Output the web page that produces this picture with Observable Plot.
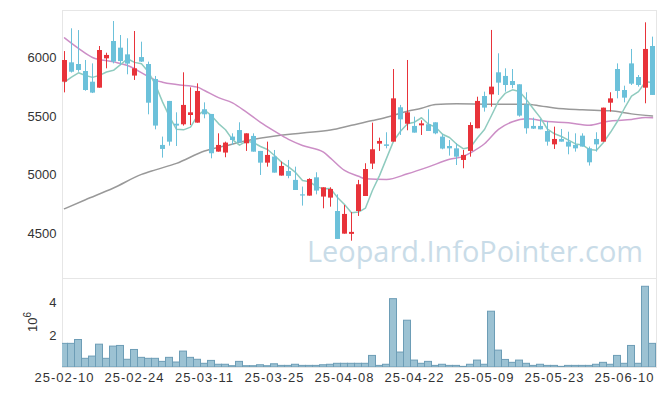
<!DOCTYPE html>
<html><head><meta charset="utf-8">
<script src="https://cdn.jsdelivr.net/npm/d3@7"></script>
<script src="https://cdn.jsdelivr.net/npm/@observablehq/plot@0.6"></script>
<style>
body{margin:0;background:#fff;}
#wrap{position:relative;width:665px;height:396px;overflow:hidden;font-family:"Liberation Sans",Arial,sans-serif;}
#wrap > svg{display:block;}
#overlay{position:absolute;left:0;top:0;pointer-events:none;}
#vol g[aria-label="x-axis tick label"] text{letter-spacing:1px;}
</style></head><body><div id="wrap"></div>
<script>
const dates = ["25-02-10","25-02-11","25-02-12","25-02-13","25-02-14","25-02-17","25-02-18","25-02-19","25-02-20","25-02-21",
"25-02-24","25-02-25","25-02-26","25-02-27","25-02-28","25-03-04","25-03-05","25-03-06","25-03-07","25-03-10",
"25-03-11","25-03-12","25-03-13","25-03-14","25-03-17","25-03-18","25-03-19","25-03-20","25-03-21","25-03-24",
"25-03-25","25-03-26","25-03-27","25-03-28","25-03-31","25-04-01","25-04-02","25-04-03","25-04-04","25-04-07",
"25-04-08","25-04-09","25-04-10","25-04-11","25-04-14","25-04-15","25-04-16","25-04-17","25-04-18","25-04-21",
"25-04-22","25-04-23","25-04-24","25-04-25","25-04-28","25-04-29","25-04-30","25-05-02","25-05-07","25-05-08",
"25-05-09","25-05-12","25-05-13","25-05-14","25-05-15","25-05-16","25-05-19","25-05-20","25-05-21","25-05-22",
"25-05-23","25-05-26","25-05-27","25-05-28","25-05-29","25-05-30","25-06-02","25-06-04","25-06-05","25-06-09",
"25-06-10","25-06-11","25-06-12","25-06-13","25-06-16"];

const openP  = [5792,5957,5943,5883,5792,5741,5991,6139,6082,6025,5844,6002,5943,5815,5253,5628,5434,5429,5508,5443,
5557,5517,5196,5188,5324,5380,5267,5330,5202,5102,5154,4992,5031,4955,4832,4821,4977,4813,4804,4690,
4497,4495,4690,4818,5094,5264,5258,5281,5574,5434,5415,5420,5429,5446,5324,5244,5224,5125,5202,5395,
5670,5684,5872,5841,5798,5770,5599,5415,5415,5372,5258,5304,5281,5253,5332,5224,5304,5281,5613,5900,
5721,5948,5832,5741,6096];
const highP  = [6053,6247,6232,5977,5948,6096,6039,6309,6190,6162,6224,6133,5963,5841,5324,5628,5531,5872,5744,5778,
5616,5517,5352,5281,5352,5446,5352,5352,5202,5281,5210,5111,5125,5068,4898,4969,5020,4892,4892,4832,
4741,4680,4955,5097,5443,5315,5361,5900,5594,5977,5494,5463,5557,5446,5344,5295,5267,5210,5446,5664,
5707,6233,6034,5906,5900,5770,5702,5486,5474,5452,5409,5389,5366,5352,5352,5239,5361,5571,5702,5948,
5758,6071,5849,6298,6176];
const lowP   = [5701,5870,5877,5715,5695,5741,5906,5948,5934,5855,5807,5960,5514,5386,5145,5247,5244,5418,5423,5443,
5480,5139,5196,5148,5253,5273,5202,5196,4997,5068,5017,4992,4969,4869,4736,4821,4832,4713,4727,4452,
4497,4437,4648,4818,5048,5202,5224,5281,5338,5378,5358,5338,5372,5344,5216,5162,5082,5054,5153,5395,
5537,5579,5679,5707,5736,5494,5349,5389,5386,5247,5219,5281,5173,5196,5239,5077,5196,5281,5537,5650,
5616,5764,5750,5608,5679];
const closeP = [5977,5877,5892,5721,5699,6062,6020,5963,5968,5946,5906,5963,5613,5418,5219,5281,5418,5594,5531,5713,
5514,5182,5253,5273,5295,5273,5352,5196,5102,5168,5017,5074,4989,4869,4822,4963,4864,4892,4878,4452,
4665,4512,4918,5048,5216,5287,5245,5650,5471,5531,5358,5437,5372,5352,5222,5224,5153,5168,5423,5628,
5571,5750,5784,5764,5764,5503,5395,5392,5386,5281,5304,5281,5239,5224,5239,5105,5258,5571,5650,5713,
5656,5775,5764,6071,5679];
// volume in millions (axis unit 10^6)
const volume = [1.47,1.47,1.71,0.54,0.68,1.42,0.54,1.30,1.34,0.48,1.09,0.60,0.54,0.54,0.35,0.60,0.31,0.99,0.60,0.48,
0.23,0.41,0.17,0.17,0.08,0.35,0.08,0.08,0.14,0.08,0.20,0.10,0.10,0.17,0.10,0.10,0.10,0.14,0.17,0.23,
0.23,0.23,0.23,0.23,0.72,0.10,0.17,4.25,0.93,2.91,0.43,0.23,0.35,0.10,0.17,0.10,0.10,0.04,0.17,0.43,
0.17,3.47,1.05,0.47,0.29,0.43,0.23,0.10,0.17,0.10,0.10,0.04,0.10,0.10,0.10,0.10,0.17,0.29,0.17,0.72,
0.23,1.34,0.23,5.02,1.47];
const ma5 = [5792,5835,5872,5849,5833,5850,5879,5893,5942,5992,5961,5949,5879,5769,5624,5499,5390,5386,5409,5507,
5554,5507,5439,5387,5303,5255,5289,5278,5244,5218,5167,5111,5070,5023,4955,4944,4902,4883,4885,4810,
4750,4679,4685,4719,4871,4996,5143,5290,5374,5437,5451,5489,5434,5410,5348,5321,5265,5224,5238,5319,
5389,5508,5631,5699,5727,5713,5642,5564,5488,5391,5352,5329,5298,5266,5257,5218,5213,5279,5365,5459,
5570,5673,5712,5796,5789];
const ma20Idx = [0,2,4,7,9,12,13,14,16,19,20,22,24,26,28,30,32,34,37,38,40,42,43,46,49,52,55,57,58,60,62,64,66,69,72,75,77,78,81,83,84];
const ma20Val = [6170,6080,6003,5965,5934,5840,5810,5792,5772,5750,5721,5660,5616,5537,5450,5375,5305,5253,5196,5145,5040,4990,4969,4963,5011,5070,5135,5160,5190,5267,5390,5455,5480,5457,5446,5425,5450,5462,5474,5492,5488];
const ma60Idx = [0,3,7,11,13,16,20,23,27,34,38,41,44,46,49,51,53,56,60,64,66,68,70,74,78,81,84];
const ma60Val = [4713,4790,4890,5006,5045,5100,5205,5250,5305,5360,5385,5425,5465,5494,5545,5570,5602,5608,5605,5603,5605,5590,5572,5557,5548,5522,5504];
const priceTicks = [4500,5000,5500,6000];
const volTicks = [2,4];
const dateTicks = [0,10,20,30,40,50,60,70,80];
const watermark = "Leopard.InfoPointer.com";

const RED = "#e8333a", BLUE = "#6cc1da";
const rows = dates.map((date,i)=>({i,date,open:openP[i],high:highP[i],low:lowP[i],close:closeP[i],vol:volume[i],ma5:ma5[i],
  col: closeP[i] >= openP[i] ? RED : BLUE}));
const ma20 = ma20Idx.map((i,k)=>({i,v:ma20Val[k]}));
const ma60 = ma60Idx.map((i,k)=>({i,v:ma60Val[k]}));
const gridMain = dateTicks.flatMap(x=>priceTicks.map(y=>({x,y})));
const gridVol = dateTicks.flatMap(x=>volTicks.map(y=>({x,y})));

const xDomain = [-2/7, 592/7];
const font = {fontFamily:'"Liberation Sans", Arial, sans-serif', fontSize:"13px", color:"#333", background:"transparent", overflow:"visible"};

const main = Plot.plot({
  width:665, height:278, marginLeft:62, marginRight:9, marginTop:10, marginBottom:0,
  style: font,
  x:{domain:xDomain, axis:null},
  y:{domain:[4119,6403], axis:null},
  color:{type:"identity"},
  marks:[
    Plot.frame({stroke:"#e6e6e6"}),
    Plot.dot(gridMain,{x:"x",y:"y",symbol:"plus",r:2,fill:"#dcdcdc",stroke:null}),
    Plot.line(ma60,{x:"i",y:"v",stroke:"#999999",strokeWidth:1.5,curve:"monotone-x"}),
    Plot.line(ma20,{x:"i",y:"v",stroke:"#cc8ec6",strokeWidth:1.5,curve:"monotone-x"}),
    Plot.line(rows,{x:"i",y:"ma5",stroke:"#8fcbbf",strokeWidth:1.5}),
    Plot.ruleX(rows,{x:"i",y1:"low",y2:"high",stroke:"col",strokeWidth:1}),
    Plot.ruleX(rows,{x:"i",y1:"open",y2:"close",stroke:"col",strokeWidth:5}),
    Plot.axisY(priceTicks,{tickSize:0,tickPadding:6,tickFormat:"d",label:null,fill:"#333"})
  ]
});

const vol = Plot.plot({
  width:665, height:118, marginLeft:62, marginRight:9, marginTop:0, marginBottom:29,
  style: font,
  x:{domain:xDomain, axis:null},
  y:{domain:[0,5.535], axis:null},
  marks:[
    Plot.frame({stroke:"#e6e6e6"}),
    Plot.dot(gridVol,{x:"x",y:"y",symbol:"plus",r:2,fill:"#dcdcdc",stroke:null}),
    Plot.rect(rows,{x1:d=>d.i-0.5,x2:d=>d.i+0.5,y1:0,y2:"vol",fill:"#9cc2d3",stroke:"#6d9db6",strokeWidth:1,clip:true}),
    Plot.axisY(volTicks,{tickSize:0,tickPadding:6,tickFormat:"d",label:null,fill:"#333"}),
    Plot.axisX(dateTicks,{tickSize:0,tickPadding:5,tickFormat:i=>dates[i],label:null,fill:"#333"})
  ]
});
vol.id = "vol";

const wrap = document.getElementById("wrap");
wrap.appendChild(main);
wrap.appendChild(vol);

const ns = "http://www.w3.org/2000/svg";
const ov = document.createElementNS(ns,"svg");
ov.setAttribute("id","overlay");
ov.setAttribute("width",665); ov.setAttribute("height",396);
const wm = document.createElementNS(ns,"text");
wm.setAttribute("x",307); wm.setAttribute("y",262);
wm.setAttribute("font-family",'"Open Sans", sans-serif');
wm.setAttribute("font-size",29);
wm.setAttribute("fill","#c9dce8");
wm.setAttribute("textLength",336);
wm.setAttribute("lengthAdjust","spacingAndGlyphs");
wm.textContent = watermark;
ov.appendChild(wm);
const lab = document.createElementNS(ns,"text");
lab.setAttribute("transform","translate(37,322) rotate(-90)");
lab.setAttribute("text-anchor","middle");
lab.setAttribute("font-family",'"Liberation Sans", Arial, sans-serif');
lab.setAttribute("font-size",13);
lab.setAttribute("fill","#333");
lab.innerHTML = '10<tspan dy="-6" font-size="10">6</tspan>';
ov.appendChild(lab);
wrap.appendChild(ov);
</script>
</body></html>
